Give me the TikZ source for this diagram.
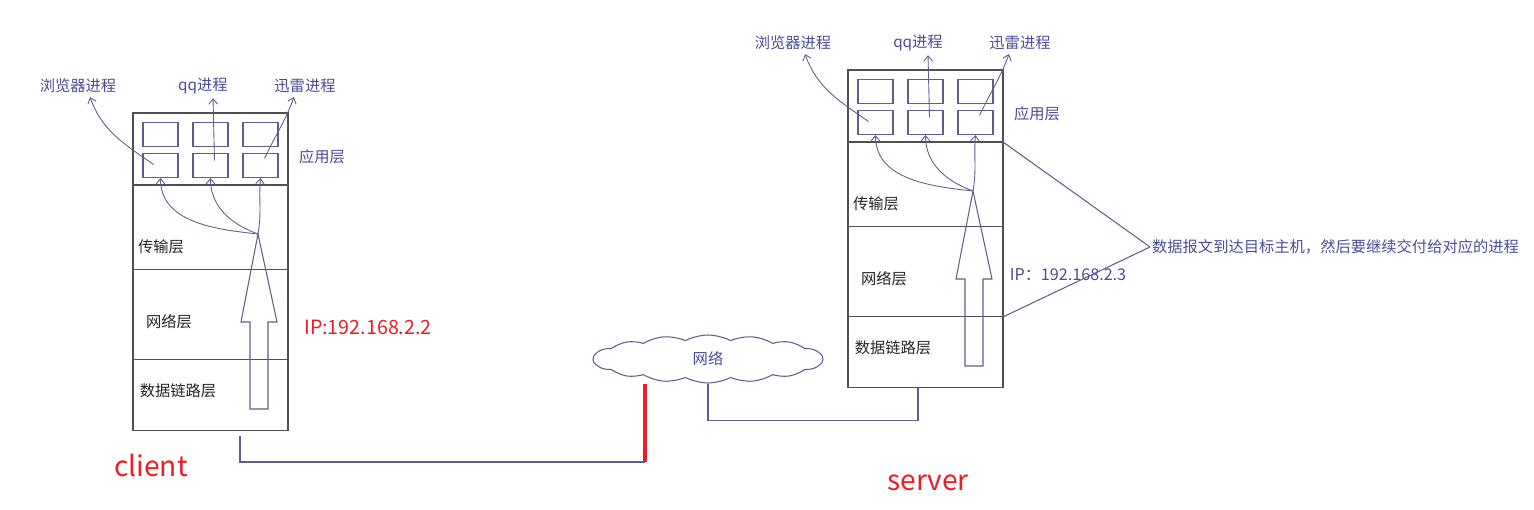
\documentclass[tikz,border=0pt]{standalone}
\usepackage{fontspec}
\setmainfont{Noto Sans CJK SC}
\usetikzlibrary{arrows.meta,shapes.symbols,calc,positioning}
\definecolor{INK}{HTML}{4B4B96}
\definecolor{WIRE}{HTML}{5E5E8C}
\definecolor{FRAME}{HTML}{505050}
\definecolor{RED}{HTML}{EE1D23}

\begin{document}
\begin{tikzpicture}[x=0.02cm, y=-0.02cm, >={Straight Barb[length=3pt,width=5pt]}]
\tikzstyle{every node}=[font=\fontsize{8.7}{10}\selectfont, inner sep=1pt]
\tikzstyle{layer}=[draw=FRAME, line width=0.6pt, minimum width=3.1cm, inner sep=0pt, outer sep=0pt, anchor=north west]
\tikzstyle{procbox}=[draw=WIRE, line width=0.6pt, minimum width=0.7cm, minimum height=0.48cm, inner sep=0pt]
\tikzstyle{proclabel}=[text=INK]
\tikzstyle{layerlabel}=[text=black!85]
\tikzstyle{procarrow}=[draw=WIRE, line width=0.5pt, ->]
\tikzstyle{bigarrow}=[draw=WIRE, line width=0.6pt]
\tikzstyle{wire}=[draw=WIRE, line width=0.6pt]
\tikzstyle{redwire}=[draw=RED, line width=2.2pt]
\tikzstyle{cloudnet}=[cloud, draw=WIRE, line width=0.6pt, cloud puffs=16, cloud puff arc=55, aspect=4.8, minimum width=4.6cm, minimum height=0.96cm, inner sep=0pt, text=INK]
\tikzstyle{hostname}=[text=RED, font=\fontsize{16}{18}\selectfont]

\useasboundingbox (0,0) rectangle (1534,510);

% one host: four layers, six process boxes, arrows up to the processes
\newcommand{\hoststack}[3]{
\begin{scope}[shift={(#2,#3)}]
\node[layer, minimum height=1.44cm] (#1App) at (0,0) {};
\node[layer, minimum height=1.70cm] (#1Trans) at (#1App.south west) {};
\node[layer, minimum height=1.80cm] (#1Net) at (#1Trans.south west) {};
\node[layer, minimum height=1.42cm] (#1Link) at (#1Net.south west) {};
\foreach \row/\ry in {1/21.5,2/52.5}
    \foreach \col/\cx in {1/27.5,2/77.5,3/127.5}
    \node[procbox] (#1Box\row\col) at (\cx,\ry) {};
\node[proclabel] (#1Lbl1) at (-55,-27) {浏览器进程};
\node[proclabel] (#1Lbl2) at (70,-27) {qq进程};
\node[proclabel] (#1Lbl3) at (172,-27) {迅雷进程};
\node[proclabel] (#1AppLbl) at (189,44) {应用层};
\node[layerlabel] (#1TransLbl) at (28,134) {传输层};
\node[layerlabel] (#1NetLbl) at (36,209) {网络层};
\node[layerlabel] (#1LinkLbl) at (45,278) {数据链路层};
\draw[bigarrow] (117,296) -- (117,209) -- (108,209) -- (125,121) coordinate (#1Tip)
    -- (144,209) -- (135,209) -- (135,296) -- cycle;
\draw[procarrow] (#1Tip) to[out=174,in=-90] (#1Box21.south);
\draw[procarrow] (#1Tip) to[out=160,in=-90] (#1Box22.south);
\draw[procarrow] (#1Tip) to[out=80,in=-95] (#1Box23.south);
\draw[procarrow] ($(#1Box21.center)+(-7,-1)$) to[out=145,in=-70] ($(#1Lbl1.south)+(12,2)$);
\draw[procarrow] ($(#1Box22.center)+(4,-5)$) -- ($(#1Lbl2.south)+(10,2)$);
\draw[procarrow] ($(#1Box23.center)+(4,-7)$) to[out=65,in=-110] ($(#1Lbl3.south)+(-11,2)$);
\end{scope}
}

\hoststack{c}{133}{113}
\hoststack{s}{848}{70}

\node[hostname] (client) at (151,465) {client};
\node[hostname] (server) at (928,483) {server};
\node[text=RED, font=\fontsize{11.2}{13}\selectfont] (cIP) at (368,327) {IP:192.168.2.2};
\node[text=INK, font=\fontsize{9.2}{11}\selectfont] (sIP) at (1068,275) {IP：192.168.2.3};

\node[cloudnet] (net) at (708,359) {网络};

\coordinate (cPort) at (240,436);
\coordinate (netDrop) at (645,462);
\coordinate (sPort) at (918,388);
\draw[wire] (cPort) |- (netDrop);
\draw[redwire] (netDrop) -- (netDrop |- net.south);
\draw[wire] (net.south) -- ++(0,37) -| (sPort);

\node[proclabel, anchor=west] (note) at (1150,247) {数据报文到达目标主机，然后要继续交付给对应的进程};
\draw[wire] (sApp.south east) -- (note.west);
\draw[wire] (sLink.north east) -- (note.west);
\end{tikzpicture}
\end{document}
